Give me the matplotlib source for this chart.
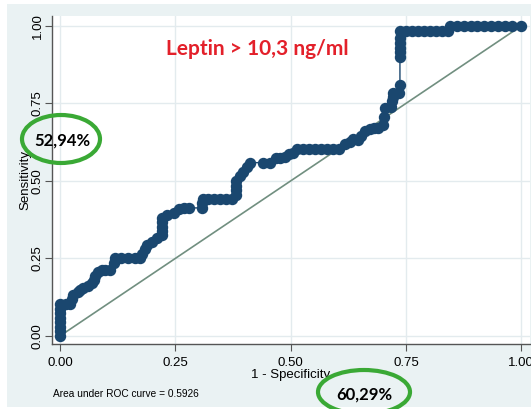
import matplotlib.pyplot as plt
from matplotlib.patches import Ellipse, Rectangle

# ROC points (1 - specificity, sensitivity), in threshold order
fpr = [0.000, 0.000, 0.000, 0.000, 0.000, 0.000, 0.000, 0.000,
       0.013, 0.022,
       0.026, 0.029, 0.039, 0.044, 0.050, 0.061, 0.069, 0.074, 0.076, 0.082, 0.091, 0.098, 0.108,
       0.118, 0.119, 0.132, 0.147, 0.162, 0.174,
       0.178, 0.185, 0.189, 0.200, 0.210, 0.221, 0.221, 0.221, 0.221, 0.221,
       0.232, 0.247, 0.257, 0.268, 0.279,
       0.308, 0.308,
       0.310, 0.321, 0.334, 0.347, 0.360, 0.373,
       0.382, 0.382, 0.382, 0.382, 0.390, 0.397, 0.405, 0.412,
       0.440, 0.455, 0.468, 0.478, 0.488, 0.497, 0.505,
       0.514, 0.527, 0.540, 0.553, 0.566, 0.579, 0.592, 0.605,
       0.618, 0.628, 0.636, 0.645, 0.652, 0.662, 0.672, 0.681, 0.690, 0.700,
       0.703, 0.705, 0.718, 0.720, 0.722, 0.722, 0.735,
       0.737, 0.737, 0.737, 0.737, 0.737, 0.737,
       0.737, 0.750, 0.763, 0.776, 0.789, 0.802, 0.815, 0.828, 0.841,
       0.846, 0.860, 0.875, 0.890, 0.905, 0.920, 0.935, 0.950, 0.965, 0.980, 1.000]
tpr = [0.000, 0.015, 0.029, 0.044, 0.059, 0.074, 0.088, 0.103,
       0.103, 0.103,
       0.118, 0.132, 0.142, 0.147, 0.155, 0.162, 0.170, 0.180, 0.194, 0.206, 0.212, 0.213, 0.213,
       0.235, 0.250, 0.250, 0.250, 0.250, 0.250,
       0.265, 0.280, 0.294, 0.303, 0.316, 0.324, 0.338, 0.353, 0.368, 0.382,
       0.390, 0.397, 0.410, 0.413, 0.413,
       0.413, 0.428,
       0.441, 0.441, 0.441, 0.441, 0.441, 0.441,
       0.456, 0.470, 0.485, 0.500, 0.515, 0.529, 0.545, 0.559,
       0.559, 0.559, 0.574, 0.574, 0.578, 0.588, 0.590,
       0.603, 0.603, 0.603, 0.603, 0.603, 0.603, 0.603, 0.603,
       0.618, 0.625, 0.635, 0.632, 0.645, 0.662, 0.668, 0.672, 0.672, 0.680,
       0.706, 0.735, 0.739, 0.757, 0.771, 0.784, 0.784,
       0.810, 0.900, 0.915, 0.930, 0.945, 0.960,
       0.985, 0.985, 0.985, 0.985, 0.985, 0.985, 0.985, 0.985, 0.985,
       1.000, 1.000, 1.000, 1.000, 1.000, 1.000, 1.000, 1.000, 1.000, 1.000, 1.000]

ticks = [0.0, 0.25, 0.5, 0.75, 1.0]
tick_labels = ["0.00", "0.25", "0.50", "0.75", "1.00"]
auc_text = "Area under ROC curve = 0.5926"
title_text = "Leptin > 10,3 ng/ml"
sens_note = "52,94%"
spec_note = "60,29%"

W, H = 531, 409
bg = "#eaf2f3"
navy = "#1a476f"

fig = plt.figure(figsize=(W / 100, H / 100), dpi=100)
fig.patch.set_facecolor("white")
# Stata-style light blue graph region, kept behind the axes
fig.patches.append(Rectangle((7 / W, 2 / H), 1 - 7 / W, 1 - 6 / H,
                             transform=fig.transFigure, facecolor=bg,
                             edgecolor="none", zorder=-5))

ax = fig.add_axes([52 / W, (H - 344) / H, 478 / W, 328 / H])
ax.set_facecolor("white")
ax.set_xlim(-0.0174, 1.019)
ax.set_ylim(-0.026, 1.032)

for t in ticks:
    ax.axhline(t, color="#e3ebee", lw=1, zorder=0)
    ax.axvline(t, color="#e3ebee", lw=1, zorder=0)

ax.plot([0, 1], [0, 1], color="#718f80", lw=1.2, zorder=2)
ax.plot(fpr, tpr, color=navy, lw=1, marker="o", ms=7.2,
        mfc=navy, mec=navy, zorder=3)

for s in ["top", "right"]:
    ax.spines[s].set_visible(False)
for s in ["left", "bottom"]:
    ax.spines[s].set_color("#555555")
    ax.spines[s].set_linewidth(1)

ax.set_xticks(ticks)
ax.set_xticklabels(tick_labels, fontsize=9.5, family="Liberation Sans")
ax.set_yticks(ticks)
ax.set_yticklabels(tick_labels, fontsize=9.5, family="Liberation Sans",
                   rotation=90, va="center")
ax.tick_params(length=5, color="#555555")
ax.tick_params(axis="x", pad=4)
ax.tick_params(axis="y", pad=1)
ax.set_xlabel("1 - Specificity", fontsize=9.5, family="Liberation Sans", labelpad=0.5)
ax.set_ylabel("Sensitivity", fontsize=9.5, family="Liberation Sans", labelpad=0)

fig.text(53 / W, 1 - 394 / H, auc_text, fontsize=7.3,
         family="Liberation Sans", va="center", ha="left")

fig.text(257 / W, 1 - 49 / H, title_text, fontsize=15, color="#e3202a",
         family="Lato", weight="bold", ha="center", va="center")

# highlighted cut-off values
fig.patches.append(Ellipse((61 / W, 1 - 139 / H), 78 / W, 48 / H,
                           transform=fig.transFigure, fill=False,
                           edgecolor="#3aa935", lw=3, zorder=5))
fig.text(62 / W, 1 - 141 / H, sens_note, fontsize=12, family="Lato",
         weight="bold", ha="center", va="center", zorder=6)
fig.patches.append(Ellipse((364 / W, 1 - 392 / H), 92 / W, 44 / H,
                           transform=fig.transFigure, fill=False,
                           edgecolor="#3aa935", lw=3, zorder=5))
fig.text(364 / W, 1 - 395 / H, spec_note, fontsize=12, family="Lato",
         weight="bold", ha="center", va="center", zorder=6)

fig.savefig("out.png", dpi=100, facecolor=fig.get_facecolor())
